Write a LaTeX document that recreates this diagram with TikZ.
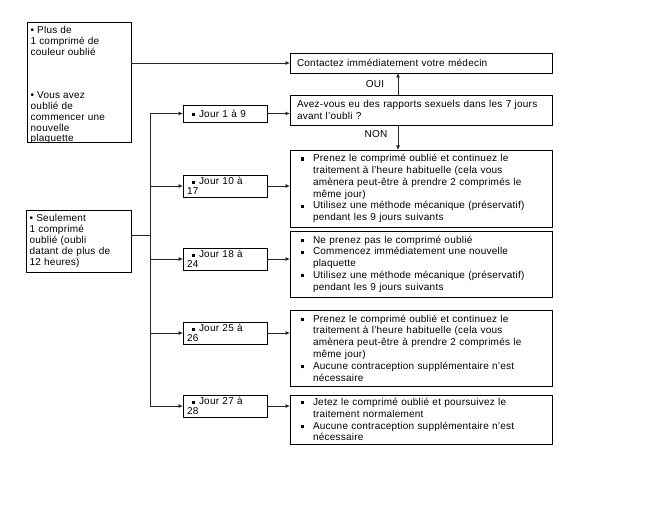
\documentclass[tikz,border=0pt]{standalone}
\usepackage{fontspec}
\setmainfont{Liberation Sans}[LetterSpace=2.3]
\usetikzlibrary{arrows.meta,shadows}
\newcommand\sqb{\rule[1bp]{3.3bp}{3.3bp}}
\newcommand\sqj{\rule[1bp]{3bp}{3bp}}
\newcommand\itm[1]{\makebox[16bp][l]{\hspace*{3.5bp}\sqb}#1}
\newcommand\cnt[1]{\hspace*{16bp}#1}
\newcommand\jr[1]{\hspace*{5bp}\sqj\hspace{4bp}#1}
\begin{document}
\begin{tikzpicture}[x=1bp,y=-1bp,
  font=\fontsize{10bp}{11.8bp}\selectfont,
  box/.style={draw=black, line width=0.8bp, fill=white,
    drop shadow={shadow xshift=1.3bp, shadow yshift=-1.3bp, fill=black!50, opacity=1},
    anchor=north west, align=left, inner ysep=0pt, outer sep=0pt},
  lbox/.style={box, inner xsep=3.5bp, font=\fontsize{10bp}{10.8bp}\selectfont},
  jbox/.style={box, inner xsep=4bp, text width=76bp, font=\fontsize{10bp}{10bp}\selectfont},
  rbox/.style={box, inner xsep=7bp, text width=248bp},
  txt/.style={anchor=north west, align=left, inner sep=0pt, font=\fontsize{10bp}{10.8bp}\selectfont},
  lab/.style={inner sep=0pt},
  ln/.style={draw=black!85, line width=0.8bp},
  arr/.style={ln, -{Latex[length=4.5bp,width=4bp]}}]
\useasboundingbox[fill=white] (0,0) rectangle (654,519);

% left boxes
\node[box, minimum width=104bp, minimum height=120bp] (A) at (27,22) {};
\node[txt] (At) at (30.5,26.5)
  {\textbullet\ Plus de\\1 comprimé de\\couleur oublié\\[32.4bp]\textbullet\ Vous avez\\oublié de\\commencer une\\nouvelle\\plaquette};
\node[lbox, text width=98bp, minimum height=62bp, font=\fontsize{10bp}{11.2bp}\selectfont] (C) at (26,210)
  {\textbullet\ Seulement\\1 comprimé\\oublié (oubli\\datant de plus de\\12 heures)};

% day boxes
\node[jbox, minimum height=17bp] (J1) at (183,105) {\jr{Jour 1 à 9}};
\node[jbox, minimum height=22bp] (J2) at (183,175) {\jr{Jour 10 à}\\17};
\node[jbox, minimum height=22bp] (J3) at (183,248) {\jr{Jour 18 à}\\24};
\node[jbox, minimum height=22bp] (J4) at (183,322) {\jr{Jour 25 à}\\26};
\node[jbox, minimum height=22bp] (J5) at (183,395) {\jr{Jour 27 à}\\28};

% right boxes
\node[rbox, minimum height=20bp] (R0) at (290,53) {Contactez immédiatement votre médecin};
\node[rbox, minimum height=30bp] (R1) at (290,95) {Avez-vous eu des rapports sexuels dans les 7 jours\\avant l'oubli ?};
\node[rbox, minimum height=77bp] (R2) at (290,150)
  {\itm{Prenez le comprimé oublié et continuez le}\\
   \cnt{traitement à l'heure habituelle (cela vous}\\
   \cnt{amènera peut-être à prendre 2 comprimés le}\\
   \cnt{même jour)}\\
   \itm{Utilisez une méthode mécanique (préservatif)}\\
   \cnt{pendant les 9 jours suivants}};
\node[rbox, minimum height=66bp] (R3) at (290,231)
  {\itm{Ne prenez pas le comprimé oublié}\\
   \itm{Commencez immédiatement une nouvelle}\\
   \cnt{plaquette}\\
   \itm{Utilisez une méthode mécanique (préservatif)}\\
   \cnt{pendant les 9 jours suivants}};
\node[rbox, minimum height=76bp] (R4) at (290,310)
  {\itm{Prenez le comprimé oublié et continuez le}\\
   \cnt{traitement à l'heure habituelle (cela vous}\\
   \cnt{amènera peut-être à prendre 2 comprimés le}\\
   \cnt{même jour)}\\
   \itm{Aucune contraception supplémentaire n'est}\\
   \cnt{nécessaire}};
\node[rbox, minimum height=49bp] (R5) at (290,395)
  {\itm{Jetez le comprimé oublié et poursuivez le}\\
   \cnt{traitement normalement}\\
   \itm{Aucune contraception supplémentaire n'est}\\
   \cnt{nécessaire}};

% labels
\node[lab] (oui) at (375,84) {OUI};
\node[lab] (non) at (376,134) {NON};

% connectors
\coordinate (sp) at (150,0);
\draw[arr] (A.east |- R0.west) -- (R0.west);
\draw[ln] ([yshift=6bp]C.east) -- ([yshift=6bp]C.east -| sp);
\draw[ln] (J1.west -| sp) -- (J5.west -| sp);
\foreach \j in {J1,J2,J3,J4,J5} {\draw[arr] (\j.west -| sp) -- (\j.west);}
\draw[arr] (J1.east) -- (J1.east -| R1.west);
\draw[arr] (J2.east) -- (J2.east -| R2.west);
\draw[arr] (J3.east) -- (J3.east -| R3.west);
\draw[arr] (J4.east) -- (J4.east -| R4.west);
\draw[arr] (J5.east) -- (J5.east -| R5.west);
\draw[arr] ([xshift=-23bp]R1.north) -- ([xshift=-23bp]R1.north |- R0.south);
\draw[arr] ([xshift=-23bp]R1.south) -- ([xshift=-23bp]R1.south |- R2.north);
\end{tikzpicture}
\end{document}
